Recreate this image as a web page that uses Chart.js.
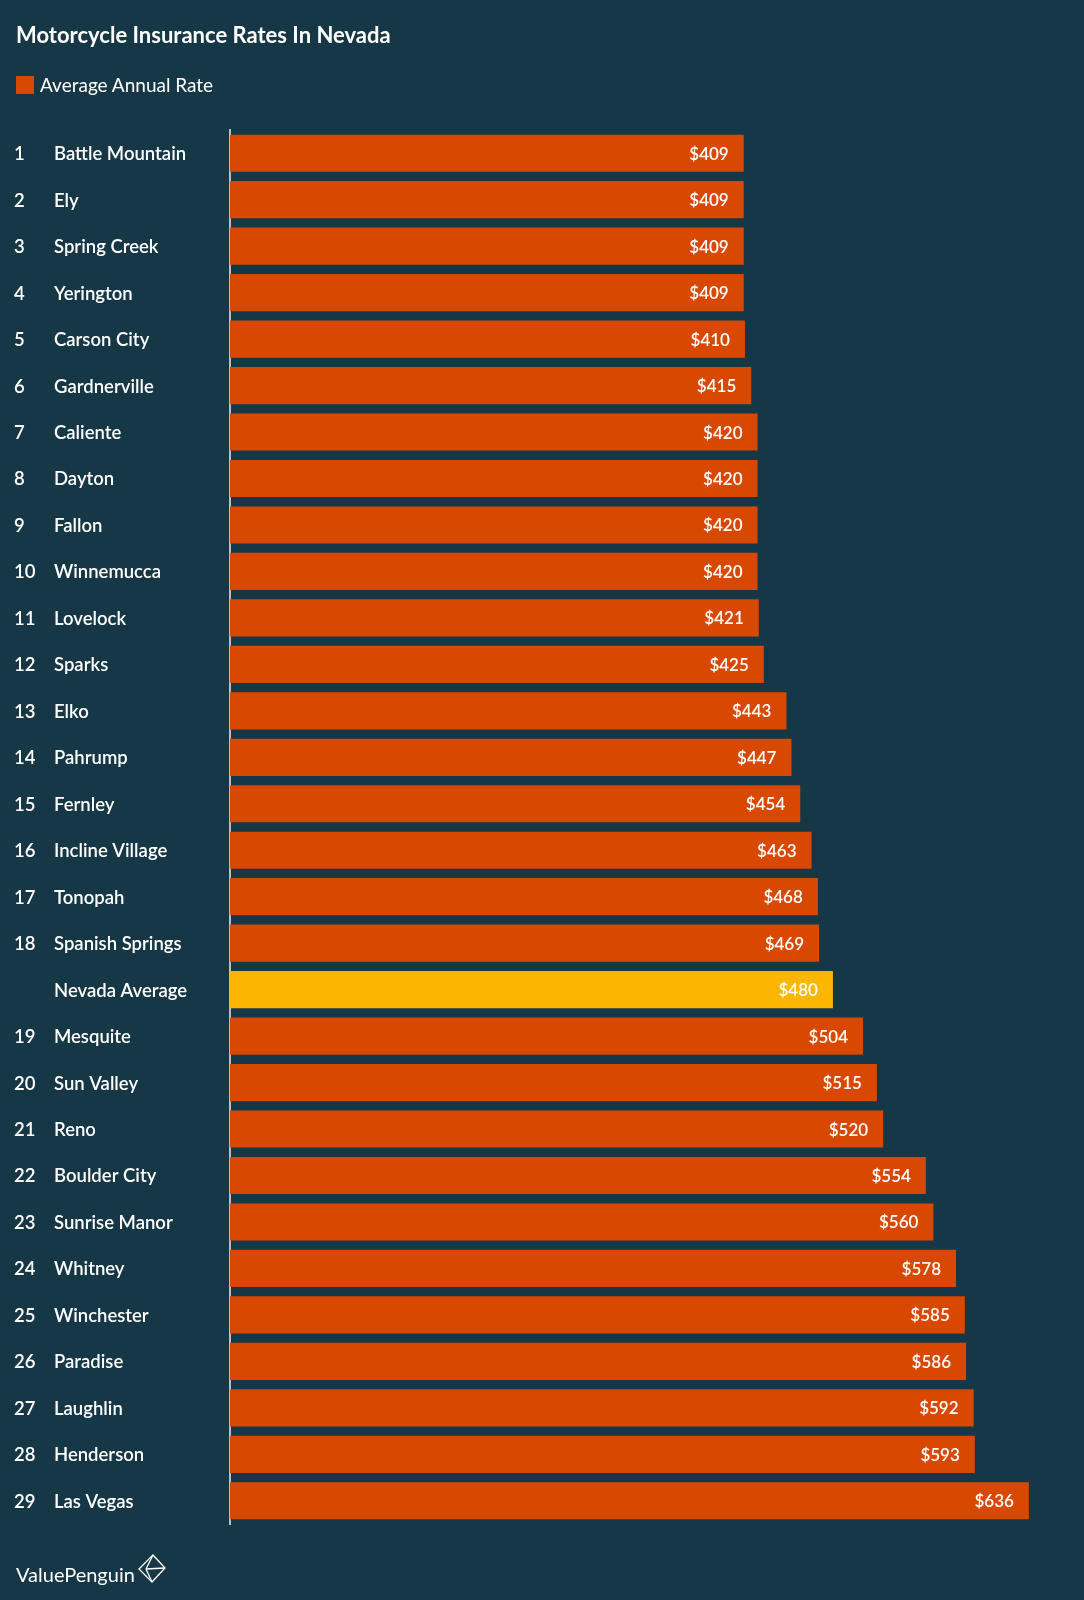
<!DOCTYPE html>
<html>
<head>
<meta charset="utf-8">
<script src="https://cdn.jsdelivr.net/npm/chart.js@4.4.1/dist/chart.umd.min.js"></script>
<style>
  html,body{margin:0;padding:0;background:#163746;}
  #wrap{position:relative;width:1084px;height:1600px;background:#163746;font-family:Lato,"Open Sans",sans-serif;color:#fff;}
  #title{position:absolute;left:16px;top:21px;font-size:22px;font-weight:700;}
  #legend{position:absolute;left:16px;top:73px;font-size:19px;display:flex;align-items:center;}
  #legend .sw{width:18px;height:18px;background:#D94800;margin-right:6px;}
  #logo{position:absolute;left:16px;top:1562px;font-size:20px;font-weight:400;}
  #icon{position:absolute;left:136px;top:1553px;}
  canvas{position:absolute;left:0;top:0;}
</style>
</head>
<body>
<div id="wrap">
  <canvas id="c" width="1084" height="1600"></canvas>
  <div id="title">Motorcycle Insurance Rates In Nevada</div>
  <div id="legend"><div class="sw"></div><span>Average Annual Rate</span></div>
  <div id="logo">ValuePenguin</div>
  <svg id="icon" width="32" height="32" viewBox="0 0 32 32">
    <g fill="none" stroke="#fff" stroke-width="1.3">
      <polygon points="17,2 29,15 16,29 3,16"/>
      <line x1="17" y1="2" x2="10" y2="16"/>
      <line x1="10" y1="16" x2="29" y2="15"/>
      <line x1="10" y1="16" x2="16" y2="29"/>
    </g>
  </svg>
</div>
<script>
const ranks = ["1","2","3","4","5","6","7","8","9","10","11","12","13","14","15","16","17","18","","19","20","21","22","23","24","25","26","27","28","29"];
const cities = ["Battle Mountain","Ely","Spring Creek","Yerington","Carson City","Gardnerville","Caliente","Dayton","Fallon","Winnemucca","Lovelock","Sparks","Elko","Pahrump","Fernley","Incline Village","Tonopah","Spanish Springs","Nevada Average","Mesquite","Sun Valley","Reno","Boulder City","Sunrise Manor","Whitney","Winchester","Paradise","Laughlin","Henderson","Las Vegas"];
const rates = [409,409,409,409,410,415,420,420,420,420,421,425,443,447,454,463,468,469,480,504,515,520,554,560,578,585,586,592,593,636];
const highlightLabel = "Nevada Average";

const barColors = cities.map(c => c === highlightLabel ? "#FBB600" : "#D94800");
const FONT = "Lato, 'Open Sans', sans-serif";

const labelPlugin = {
  id: "rowLabels",
  afterDatasetsDraw(chart) {
    const ctx = chart.ctx;
    const y = chart.scales.y;
    ctx.save();
    ctx.fillStyle = "#fff";
    ctx.textBaseline = "middle";
    ctx.font = "600 18.5px " + FONT;
    ctx.textAlign = "left";
    chart.data.labels.forEach((lab, i) => {
      const py = y.getPixelForTick(i);
      ctx.fillText(ranks[i], 14, py + 1);
      ctx.fillText(lab, 54, py + 1);
    });
    const meta = chart.getDatasetMeta(0);
    ctx.font = "600 17px " + FONT;
    ctx.textAlign = "right";
    meta.data.forEach((bar, i) => {
      ctx.fillText("$" + rates[i], bar.x - 15, bar.y + 1);
    });
    ctx.restore();
  }
};

new Chart(document.getElementById("c"), {
  type: "bar",
  data: {
    labels: cities,
    datasets: [{
      label: "Average Annual Rate",
      data: rates,
      backgroundColor: barColors,
      borderWidth: 0,
      categoryPercentage: 1.0,
      barPercentage: 0.8
    }]
  },
  options: {
    indexAxis: "y",
    responsive: false,
    animation: false,
    devicePixelRatio: 1,
    layout: { padding: { top: 130, bottom: 76, right: 25, left: 0 } },
    plugins: { legend: { display: false }, tooltip: { enabled: false }, title: { display: false } },
    scales: {
      x: { display: false, min: 0, max: 660 },
      y: {
        display: true,
        grid: { display: false, drawTicks: false },
        ticks: { display: false },
        border: { display: true, color: "#B8BEC2", width: 2 },
        afterFit(s) { s.width = 230; }
      }
    }
  },
  plugins: [labelPlugin]
});
</script>
</body>
</html>
